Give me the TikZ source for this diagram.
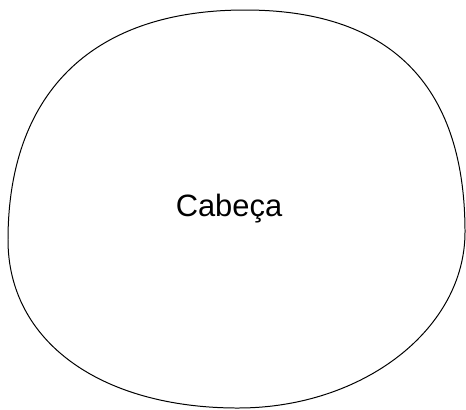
\documentclass[tikz,border=0pt]{standalone}
\usepackage{fontspec}
\setmainfont{Liberation Sans}
\usepackage{tikz}
\usetikzlibrary{calc}

\begin{document}
\begin{tikzpicture}[x=1bp, y=-1bp]
    \useasboundingbox (0,0) rectangle (466,409);
    \coordinate (topo) at (245,10);
    \coordinate (dir) at (465,232);
    \coordinate (base) at (238,408);
    \coordinate (esq) at (8,240);
    \draw[line width=1pt] (topo)
      .. controls ($(topo)+(152,0)$) and ($(dir)+(0,-140)$) .. (dir)
      .. controls ($(dir)+(0,97)$) and ($(base)+(125,0)$) .. (base)
      .. controls ($(base)+(-138,0)$) and ($(esq)+(0,101)$) .. (esq)
      .. controls ($(esq)+(0,-142)$) and ($(topo)+(-158,0)$) .. (topo) -- cycle;
    \node[anchor=base, font=\fontsize{31}{36}\selectfont, inner sep=0pt] (cabeca) at (229,216) {Cabeça};
  \end{tikzpicture}
\end{document}
